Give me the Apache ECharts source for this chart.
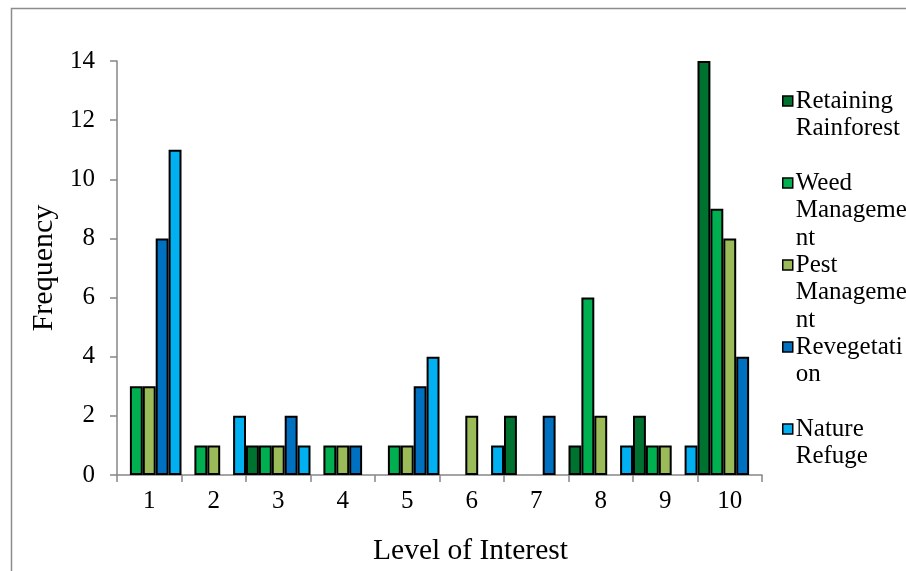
<!DOCTYPE html>
<html>
<head>
<meta charset="utf-8">
<script src="https://cdn.jsdelivr.net/npm/echarts@6/dist/echarts.min.js"></script>
<style>
html,body{margin:0;padding:0;background:#fff}
#chart{width:906px;height:571px}
</style>
</head>
<body>
<div id="chart"></div>
<script>
// Level of interest categories along the x axis
const levels = ['1', '2', '3', '4', '5', '6', '7', '8', '9', '10'];

// Frequency of responses for each activity
const retainingRainforest = [0, 0, 1, 0, 0, 0, 2, 1, 2, 14];
const weedManagement      = [3, 1, 1, 1, 1, 0, 0, 6, 1, 9];
const pestManagement      = [3, 1, 1, 1, 1, 2, 0, 2, 1, 8];
const revegetation        = [8, 0, 2, 1, 3, 0, 2, 0, 0, 4];
const natureRefuge        = [11, 2, 1, 0, 4, 1, 0, 1, 1, 0];

const seriesNames = ['Retaining Rainforest', 'Weed Management', 'Pest Management', 'Revegetation', 'Nature Refuge'];
// Legend text as it wraps in the narrow legend column
const legendLines = [
  ['Retaining', 'Rainforest'],
  ['Weed', 'Manageme', 'nt'],
  ['Pest', 'Manageme', 'nt'],
  ['Revegetati', 'on'],
  ['Nature', 'Refuge']
];
const seriesColors = ['#00722F', '#00B050', '#9BBB59', '#0070C0', '#00B0F0'];

// Frequency axis
const yMin = 0, yMax = 14, yStep = 2;

const seriesValues = [retainingRainforest, weedManagement, pestManagement, revegetation, natureRefuge];
const FONT = '"Liberation Serif", "Times New Roman", serif';

const chart = echarts.init(document.getElementById('chart'), null, { renderer: 'canvas' });

const LEGEND_LINE_H = 27.5;
const LEGEND_FIRST_Y = 101;
const LEGEND_STEP = 82;

// One legend per entry so each sits in its own evenly spaced slot;
// blank leading lines keep the marker beside the first text line.
const legends = seriesNames.map((name, i) => {
  const lines = legendLines[i];
  const total = 2 * lines.length - 1;
  const blockH = total * LEGEND_LINE_H;
  return {
    data: [name],
    orient: 'vertical',
    left: 782,
    top: LEGEND_FIRST_Y + LEGEND_STEP * i - blockH / 2,
    padding: 0,
    itemWidth: 10,
    itemHeight: 10,
    icon: 'rect',
    selectedMode: false,
    formatter: () => new Array(lines.length - 1).fill('').concat(lines).join('\n'),
    textStyle: { fontFamily: FONT, fontSize: 25, color: '#000', lineHeight: LEGEND_LINE_H, padding: [0, 0, 0, -2] },
    itemStyle: { borderColor: '#000', borderWidth: 1.5 }
  };
});

const option = {
  animation: false,
  backgroundColor: '#fff',
  graphic: [{
    type: 'rect',
    silent: true,
    shape: { x: 11.5, y: 8.5, width: 1000, height: 1000 },
    style: { fill: 'none', stroke: '#8c8c8c', lineWidth: 1.5 }
  }],
  grid: { left: 117, right: 144, top: 61, bottom: 93 },
  legend: legends,
  xAxis: {
    type: 'category',
    data: levels,
    boundaryGap: true,
    name: 'Level of Interest',
    nameLocation: 'middle',
    nameGap: 61,
    nameTextStyle: { fontFamily: FONT, fontSize: 29.5, color: '#000', padding: [0, 0, 0, 62] },
    axisLine: { show: true, lineStyle: { color: '#868686', width: 1.5 } },
    axisTick: { show: true, alignWithLabel: false, length: 7, lineStyle: { color: '#868686', width: 1.5 } },
    axisLabel: { fontFamily: FONT, fontSize: 25, color: '#000', margin: 14 },
    splitLine: { show: false }
  },
  yAxis: {
    type: 'value',
    min: yMin,
    max: yMax,
    interval: yStep,
    name: 'Frequency',
    nameLocation: 'middle',
    nameGap: 55,
    nameRotate: 90,
    nameTextStyle: { fontFamily: FONT, fontSize: 30, color: '#000' },
    axisLine: { show: true, lineStyle: { color: '#868686', width: 1.5 } },
    axisTick: { show: true, inside: false, length: 7, lineStyle: { color: '#868686', width: 1.5 } },
    axisLabel: { fontFamily: FONT, fontSize: 25, color: '#000', margin: 22 },
    splitLine: { show: false }
  },
  series: seriesNames.map((name, i) => ({
    name: name,
    type: 'bar',
    barGap: '0%',
    barCategoryGap: '0%',
    itemStyle: { color: seriesColors[i], borderColor: '#000', borderWidth: 2 },
    data: seriesValues[i].map(v => v === 0 ? { value: v, itemStyle: { borderWidth: 0 } } : v)
  }))
};

chart.setOption(option);
</script>
</body>
</html>
